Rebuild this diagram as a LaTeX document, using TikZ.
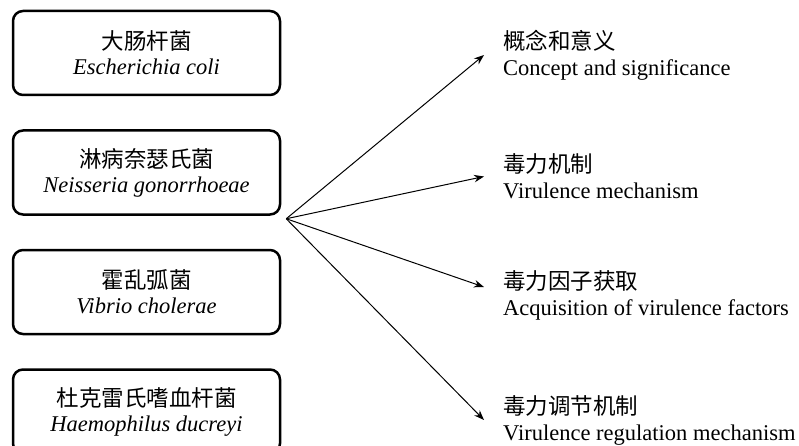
\documentclass[tikz,border=0pt]{standalone}
\usepackage{fontspec}
\setmainfont{Liberation Serif}
\newfontfamily\cjk{Noto Sans CJK SC}
\usetikzlibrary{arrows.meta,positioning}

\begin{document}
\begin{tikzpicture}[
  x=1pt, y=1pt,
  node distance=33pt,
  >={Stealth[length=10pt,width=7.5pt]},
  species/.style={rectangle, rounded corners=10pt, draw=black, line width=2.5pt, align=center, minimum width=267pt, minimum height=84pt, font=\fontsize{22.5}{25}\selectfont},
  topic/.style={anchor=west, align=left, inner sep=0pt, font=\fontsize{22.5}{26}\selectfont},
]
\useasboundingbox (0,0) rectangle (799,445);
\node[species] (ecoli) at (146.5,392) {{\cjk 大肠杆菌}\\\textit{Escherichia coli}};
\node[species, below=of ecoli] (neis) {{\cjk 淋病奈瑟氏菌}\\\textit{Neisseria gonorrhoeae}};
\node[species, below=of neis] (vibrio) {{\cjk 霍乱弧菌}\\\textit{Vibrio cholerae}};
\node[species, below=of vibrio] (haemo) {{\cjk 杜克雷氏嗜血杆菌}\\\textit{Haemophilus ducreyi}};
\coordinate (hub) at ([xshift=5pt,yshift=-3pt]neis.south east);

\node[topic] (concept) at (503,390) {{\cjk 概念和意义}\\Concept and significance};
\node[topic] (mech) at (503,268.5) {{\cjk 毒力机制}\\Virulence mechanism};
\node[topic] (acq) at (503,150) {{\cjk 毒力因子获取}\\Acquisition of virulence factors};
\node[topic] (reg) at (503,25) {{\cjk 毒力调节机制}\\Virulence regulation mechanism};

\draw[->, line width=1pt] (hub) -- ([xshift=-19pt]concept.west);
\draw[->, line width=1pt] (hub) -- ([xshift=-19pt]mech.west);
\draw[->, line width=1pt] (hub) -- ([xshift=-19pt,yshift=8pt]acq.west);
\draw[->, line width=1pt] (hub) -- ([xshift=-19pt]reg.west);
\end{tikzpicture}
\end{document}
